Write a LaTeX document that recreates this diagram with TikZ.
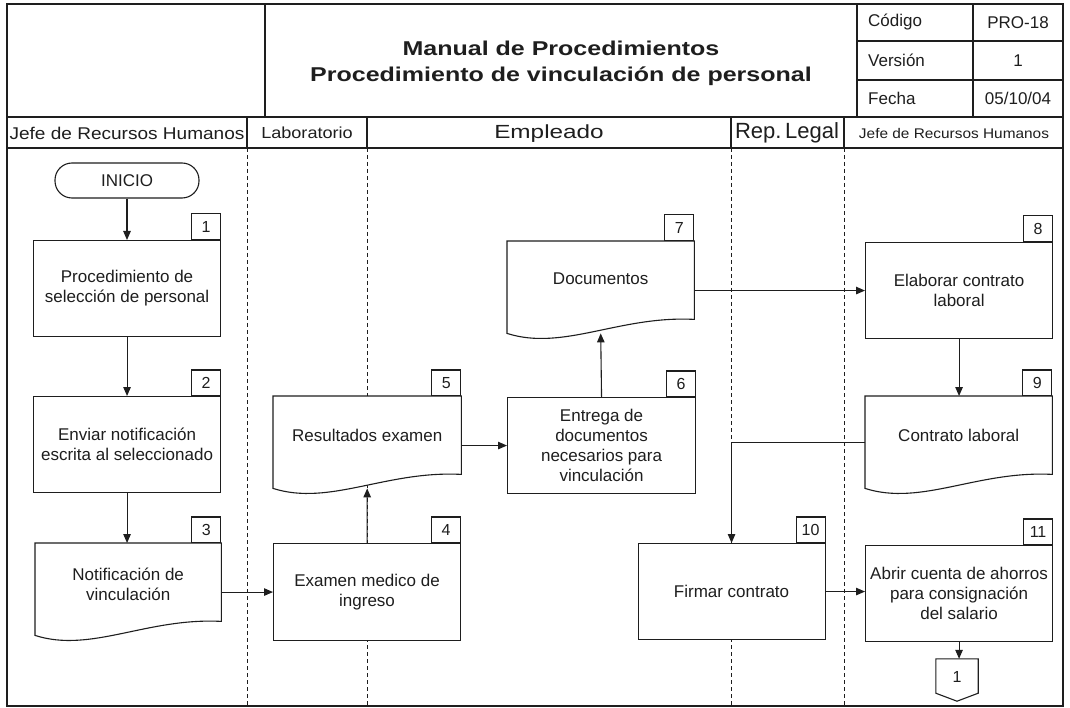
\documentclass[tikz,border=0pt]{standalone}
\usepackage{fontspec}
\setmainfont{Liberation Sans}
\usepackage{graphicx}
\usetikzlibrary{arrows.meta,calc}

\definecolor{ink}{HTML}{1E1E1E}

\tikzset{
  ln/.style={line width=1.1pt, draw=ink},
  arr/.style={ln, -{Triangle[length=9pt,width=7.5pt]}},
  lane/.style={line width=1pt, draw=ink, dash pattern=on 4pt off 3pt},
  txt/.style={text=ink, align=center, inner sep=0pt, font=\fontsize{17}{20}\selectfont},
  stepbox/.style={ln, fill=white, rectangle, anchor=north west, inner sep=0pt,
    minimum width=187pt, minimum height=96pt, text=ink, align=center,
    font=\fontsize{17}{20}\selectfont},
  docnode/.style={rectangle, anchor=north west, inner sep=0pt,
    minimum width=187pt, minimum height=92pt},
  tag/.style={ln, fill=white, rectangle, anchor=south east, inner sep=0pt,
    minimum width=29pt, minimum height=25.5pt, text=ink,
    font=\fontsize{16}{16}\selectfont},
  hdr/.style={text=ink, inner sep=0pt, font=\fontsize{17}{20}\selectfont},
}

% outline of a document symbol: flat top, wavy bottom
\newcommand\docoutline[1]{%
  \draw[ln, fill=white] (#1.south west) -- (#1.north west) -- (#1.north east)
    -- ($(#1.south east)+(0,-14)$)
    .. controls ($(#1.south west)!0.6!(#1.south east)+(0,-18)$)
       and ($(#1.south west)!0.3!(#1.south east)+(0,18)$) .. (#1.south west) -- cycle;}

\begin{document}
\begin{tikzpicture}[x=1pt, y=-1pt]
\useasboundingbox (0,0) rectangle (1070,708);
\fill[white] (0,0) rectangle (1070,708);

% ---------- frame and header ----------
\draw[ln] (7,4) rectangle (1063,706);
\draw[ln] (265,4) -- (265,117);
\draw[ln] (857,4) -- (857,117);
\draw[ln] (973,4) -- (973,117);
\draw[ln] (857,41) -- (1063,41);
\draw[ln] (857,80) -- (1063,80);
\draw[ln] (7,117) -- (1063,117);
\draw[ln] (7,148) -- (1063,148);

\node[text=ink, inner sep=0pt] (title) at (561,63)
  {\scalebox{1.25}[1]{\bfseries\fontsize{20}{26}\selectfont
   \begin{tabular}{@{}c@{}}Manual de Procedimientos\\
   Procedimiento de vinculación de personal\end{tabular}}};

\node[hdr, anchor=west] (kcod) at (868,22.5) {Código};
\node[hdr, anchor=west] (kver) at (868,60.5) {Versión};
\node[hdr, anchor=west] (kfec) at (868,98.5) {Fecha};
\node[hdr] (vcod) at (1018,22.5) {PRO-18};
\node[hdr] (vver) at (1018,60.5) {1};
\node[hdr] (vfec) at (1018,98.5) {05/10/04};

% ---------- swimlane headers ----------
\foreach \xx in {247,367,731,844} {
  \draw[ln] (\xx,117) -- (\xx,148);
  \draw[lane] (\xx,148) -- (\xx,706);
}
\node[text=ink, inner sep=0pt] (l1) at (127,133)
  {\scalebox{1.12}[1]{\fontsize{17}{20}\selectfont Jefe de Recursos Humanos}};
\node[text=ink, inner sep=0pt] (l2) at (307,133)
  {\scalebox{1.13}[1]{\fontsize{16}{20}\selectfont Laboratorio}};
\node[text=ink, inner sep=0pt] (l3) at (549,134)
  {\scalebox{1.28}[1]{\fontsize{19}{22}\selectfont Empleado}};
\node[text=ink, inner sep=0pt] (l4) at (787,133)
  {\fontsize{22}{24}\selectfont Rep.\,Legal};
\node[text=ink, inner sep=0pt] (l5) at (954,133)
  {\scalebox{1.1}[1]{\fontsize{14}{16}\selectfont Jefe de Recursos Humanos}};

% ---------- flow steps ----------
\node[ln, fill=white, rounded corners=17pt, minimum width=144pt, minimum height=35pt,
  inner sep=0pt, text=ink, font=\fontsize{17}{20}\selectfont] (ini) at (127,180.5) {INICIO};

\node[stepbox] (b1) at (33,240) {Procedimiento de\\selección de personal};
\node[tag] (n1) at (b1.north east) {1};

\node[stepbox] (b2) at (33,396) {Enviar notificación\\escrita al seleccionado};
\node[tag] (n2) at (b2.north east) {2};

\node[docnode, minimum width=186pt] (b3) at (35,543) {};
\docoutline{b3}
\node[txt] (t3) at ($(b3.center)+(0,-5)$) {Notificación de\\vinculación};
\node[tag] (n3) at (b3.north east) {3};

\node[stepbox, minimum height=97pt] (b4) at (273,543) {Examen medico de\\ingreso};
\node[tag] (n4) at (b4.north east) {4};

\node[docnode, minimum width=188pt] (b5) at (273,396) {};
\docoutline{b5}
\node[txt] (t5) at ($(b5.center)+(0,-7)$) {Resultados examen};
\node[tag] (n5) at (b5.north east) {5};

\node[stepbox, minimum width=188pt] (b6) at (507,397) {Entrega de\\documentos\\necesarios para\\vinculación};
\node[tag] (n6) at (b6.north east) {6};

\node[docnode] (b7) at (507,241) {};
\docoutline{b7}
\node[txt] (t7) at ($(b7.center)+(0,-8)$) {Documentos};
\node[tag] (n7) at (b7.north east) {7};

\node[stepbox] (b8) at (865,242) {Elaborar contrato\\laboral};
\node[tag] (n8) at (b8.north east) {8};

\node[docnode] (b9) at (865,396) {};
\docoutline{b9}
\node[txt] (t9) at ($(b9.center)+(0,-7)$) {Contrato laboral};
\node[tag] (n9) at (b9.north east) {9};

\node[stepbox] (b10) at (637.5,543) {Firmar contrato};
\node[tag] (n10) at (b10.north east) {10};

\node[stepbox] (b11) at (865,545) {Abrir cuenta de ahorros\\para consignación\\del salario};
\node[tag] (n11) at (b11.north east) {11};

% off-page connector
\node[inner sep=0pt, minimum width=42pt, minimum height=42pt] (c1) at (957,680) {};
\draw[ln, fill=white] (c1.north west) -- (c1.north east) -- ($(c1.south east)+(0,-8)$)
  -- (c1.south) -- ($(c1.south west)+(0,-8)$) -- cycle;
\node[text=ink, inner sep=0pt, font=\fontsize{16}{16}\selectfont] (c1t) at (957,677) {1};

% ---------- connectors ----------
\draw[arr] (ini.south) -- (ini.south |- b1.north);
\draw[arr] (b1.south) -- (b1.south |- b2.north);
\draw[arr] (b2.south) -- (b2.south |- b3.north);
\draw[arr] (b4.west -| b3.east) -- (b4.west);
\draw[arr] (b4.north) -- (b5.south);
\draw[arr] (b6.west -| b5.east) -- (b6.west);
\draw[arr] (b6.north) -- (b7.south);
\draw[arr] (b8.west -| b7.east) -- (b8.west);
\draw[arr] (b8.south) -- (b8.south |- b9.north);
\draw[arr] (b9.west) -| (b10.north);
\draw[arr] (b10.east) -- (b10.east -| b11.west);
\draw[arr] (b11.south) -- (b11.south |- c1.north);
\end{tikzpicture}
\end{document}
